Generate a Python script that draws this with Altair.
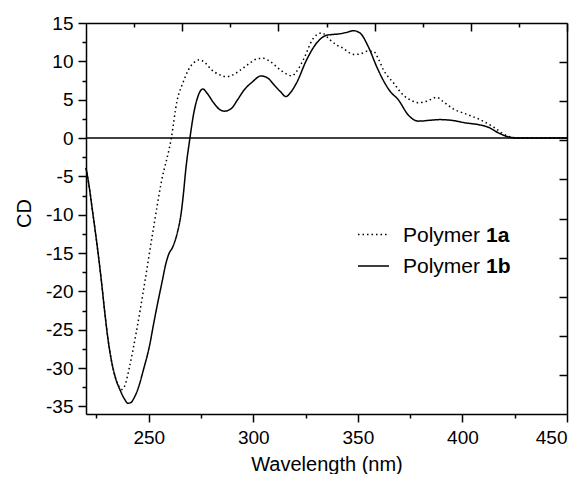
import altair as alt
import pandas as pd

# Polymer 1b (solid)
x_1b = [220, 221.5, 223, 224.5, 226, 227.5, 229, 230.5, 232, 234, 236.5, 238.5, 240, 241.5, 243,
        245, 247.5, 250.3, 252.5, 254.3, 256.5, 258, 259.5, 261.5, 263.8, 265.5, 266.5, 267.8, 269.7, 271.5,
        273.5, 275.8, 278, 281, 284, 286.1, 289.3, 292.5, 295.7, 299.5, 303.7, 307, 310, 312.8, 315.6,
        318, 320.7, 325.5, 330.3, 335.1, 341.5, 345, 347.8, 351, 355, 359, 362, 365.4, 369.3, 374.1,
        378.9, 384, 389.3, 395, 401, 408.4, 412.4, 417, 422.7, 426.7, 435, 450]
y_1b = [-3.9, -6.3, -9.3, -12.3, -15.5, -19.0, -22.8, -26.2, -28.8, -31.2, -33.0, -34.1, -34.6, -34.5, -33.9,
        -32.6, -30.2, -27.2, -24.0, -21.5, -18.6, -16.6, -15.2, -14.2, -12.2, -9.8, -7.5, -3.9, 0, 3.2,
        5.4, 6.4, 5.8, 4.6, 3.7, 3.5, 3.8, 5.0, 6.3, 7.3, 8.1, 7.8, 6.9, 6.1, 5.4,
        6.0, 7.2, 10.2, 12.4, 13.4, 13.6, 13.8, 14.0, 13.7, 11.9, 9.3, 7.6, 6.1, 5.0, 3.0,
        2.2, 2.3, 2.4, 2.3, 2.0, 1.7, 1.4, 0.7, 0.1, 0, 0, 0]

# Polymer 1a (dotted)
x_1a = [220, 221.5, 223, 224.5, 226, 227.5, 229, 230.5, 232, 234, 235.5, 237.3, 238.7, 240.7, 244,
        248, 252, 256, 260.8, 263.5, 266.5, 269, 271.5, 274.2, 277, 280, 283.5, 286.9, 290, 294,
        298, 301.5, 304.5, 308, 312.8, 315.6, 318.4, 320.5, 323.9, 328.7, 332.7, 336.7, 340, 343, 346,
        348.6, 351.5, 354.2, 357.4, 360, 362.2, 367, 371.7, 375.5, 378.9, 383, 387.7, 391, 395.6, 402,
        408.4, 415, 421.2, 426.7, 435, 450]
y_1a = [-3.9, -6.3, -9.3, -12.3, -15.5, -19.0, -22.8, -26.2, -28.8, -31.2, -32.3, -32.8, -32.2, -30.0, -25.4,
        -19.0, -12.2, -5.8, 0, 4.8, 7.3, 8.9, 9.8, 10.2, 9.8, 8.9, 8.3, 8.0, 8.2, 8.9,
        9.7, 10.3, 10.4, 10.0, 8.9, 8.4, 8.1, 8.6, 10.2, 13.0, 13.7, 12.8, 12.1, 11.7, 11.1,
        10.9, 11.0, 11.3, 11.3, 10.2, 8.9, 7.2, 5.6, 4.9, 4.6, 4.8, 5.3, 4.7, 3.8, 3.1,
        2.4, 1.4, 0.3, 0, 0, 0]

series_names = ["1a", "1b"]
legend_prefix = "Polymer"

x_major = [250, 300, 350, 400, 450]
x_minor = [225, 275, 325, 375, 425]
y_major = [-35, -30, -25, -20, -15, -10, -5, 0, 5, 10, 15]
y_minor = [-32.5, -27.5, -22.5, -17.5, -12.5, -7.5, -2.5, 2.5, 7.5, 12.5]
top_major = [266, 312, 358, 404, 450]
top_minor = [243, 289, 335, 381, 427]
right_ticks = [-30.9, -25.8, -20.7, -15.6, -10.5, -5.4, -0.3, 4.8, 9.9]

W, H = 481, 391
FONT = "Liberation Sans"

df = pd.concat([
    pd.DataFrame({"x": x_1a, "y": y_1a, "s": series_names[0], "o": range(len(x_1a))}),
    pd.DataFrame({"x": x_1b, "y": y_1b, "s": series_names[1], "o": range(len(x_1b))}),
])

xs = alt.Scale(domain=[220, 450], nice=False, zero=False)
ys = alt.Scale(domain=[-36, 15], nice=False, zero=False)

common = dict(grid=False, domainColor="black", tickColor="black", labelColor="black",
              titleColor="black", labelFont=FONT, titleFont=FONT, domainWidth=1.5, tickWidth=1.5)

hyphen = "datum.value < 0 ? '-' + abs(datum.value) : '' + datum.value"

dash = alt.StrokeDash("s:N", scale=alt.Scale(domain=series_names, range=[[1.5, 3], [1, 0]]), legend=None)

lines = alt.Chart(df).mark_line(color="black", strokeWidth=1.5, interpolate="monotone").encode(
    x=alt.X("x:Q", scale=xs, axis=alt.Axis(orient="bottom", values=x_major, title="Wavelength (nm)",
                                            tickSize=8, labelFontSize=19, titleFontSize=20,
                                            titleFontWeight="normal", labelPadding=6,
                                            titleBaseline="alphabetic", titleY=56, titleX=W / 2,
                                            titleAlign="center", **common)),
    y=alt.Y("y:Q", scale=ys, axis=alt.Axis(orient="left", values=y_major, title="CD", tickSize=8,
                                            labelFontSize=19, titleFontSize=20, titleFontWeight="normal",
                                            labelPadding=5, labelExpr=hyphen, titleAngle=270,
                                            titleBaseline="alphabetic", titleAlign="center",
                                            titleX=-56, titleY=190, **common)),
    strokeDash=dash,
    detail="s:N",
    order="o:Q",
)

inv = alt.Chart(df).mark_line(opacity=0)

minor = inv.encode(
    x=alt.X("x:Q", scale=xs, axis=alt.Axis(orient="bottom", values=x_minor, labels=False, title=None,
                                            domain=False, tickSize=4, **common)),
    y=alt.Y("y:Q", scale=ys, axis=alt.Axis(orient="left", values=y_minor, labels=False, title=None,
                                            domain=False, tickSize=4, **common)),
    detail="s:N",
)

topright = inv.encode(
    x=alt.X("x:Q", scale=xs, axis=alt.Axis(orient="bottom", offset=-H, values=top_major, labels=False,
                                            title=None, tickSize=8, **common)),
    y=alt.Y("y:Q", scale=ys, axis=alt.Axis(orient="left", offset=-W, values=right_ticks, labels=False,
                                            title=None, tickSize=8, **common)),
    detail="s:N",
)

topminor = inv.encode(
    x=alt.X("x:Q", scale=xs, axis=alt.Axis(orient="bottom", offset=-H, values=top_minor, labels=False,
                                            title=None, domain=False, tickSize=4, **common)),
    y=alt.Y("y:Q", scale=ys, axis=None),
    detail="s:N",
)

zero = alt.Chart(pd.DataFrame({"z": [0]})).mark_rule(color="black", strokeWidth=1.5).encode(
    y=alt.Y("z:Q", scale=ys, axis=None)
)

leg = pd.DataFrame({"s": series_names,
                    "label": [legend_prefix] * 2,
                    "bold": series_names})
leg_rows = []
row_y = [211.5, 243]
for i, s in enumerate(series_names):
    base_leg = alt.Chart(leg[leg.s == s])
    sample = base_leg.mark_rule(color="black", strokeWidth=1.5,
                                strokeDash=[1.5, 3] if i == 0 else [1, 0]).encode(
        x=alt.value(272), x2=alt.value(303), y=alt.value(row_y[i]))
    t1 = base_leg.mark_text(align="left", baseline="middle", font=FONT, fontSize=21, color="black").encode(
        x=alt.value(317), y=alt.value(row_y[i] + 1), text="label:N")
    t2 = base_leg.mark_text(align="left", baseline="middle", font=FONT, fontSize=21, fontWeight="bold",
                            color="black").encode(
        x=alt.value(400), y=alt.value(row_y[i] + 1), text="bold:N")
    leg_rows += [sample, t1, t2]

chart = alt.layer(lines, minor, topright, topminor, zero, *leg_rows).resolve_axis(
    x="independent", y="independent"
).properties(
    width=W, height=H,
    autosize=alt.AutoSizeParams(type="none"),
    padding={"left": 78, "top": 15, "right": 10, "bottom": 60},
).configure_view(stroke=None).configure(background="white")

chart.save("out.html", embed_options={"renderer": "svg", "actions": False})
